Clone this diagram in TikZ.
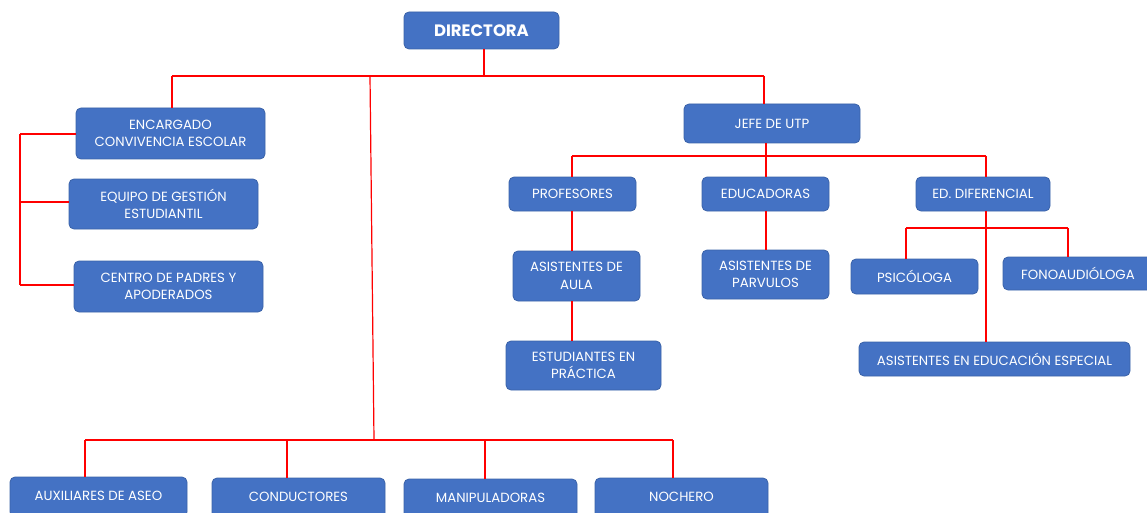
\documentclass[tikz,border=0pt]{standalone}
\usepackage{fontspec}
\setmainfont{Poppins}
\begin{document}
\begin{tikzpicture}[x=1pt,y=1pt,
  box/.style={draw=boxedge, line width=0.8pt, fill=boxfill, rounded corners=5pt, text=white,
    align=center, font=\fontsize{13.3}{17.5}\selectfont, inner sep=0pt},
  conn/.style={draw=linered, line width=1.8pt},
  thin conn/.style={draw=linered, line width=1.2pt}]
\definecolor{boxfill}{HTML}{4472C4}
\definecolor{boxedge}{HTML}{3A62A8}
\definecolor{linered}{HTML}{FF0000}
\useasboundingbox (0,0) rectangle (1147,-513);
\clip (0,0) rectangle (1147,-513);
% nodes
\node[box, minimum width=155, minimum height=37, font=\bfseries\fontsize{16.5}{19}\selectfont] (dir) at (481.5,-30.5) {DIRECTORA};
\node[box, minimum width=189, minimum height=51] (enc) at (170.5,-133.5) {ENCARGADO\\CONVIVENCIA ESCOLAR};
\node[box, minimum width=189, minimum height=50] (equ) at (163.5,-204) {EQUIPO DE GESTIÓN\\ESTUDIANTIL};
\node[box, minimum width=189, minimum height=51] (cen) at (168.5,-286.5) {CENTRO DE PADRES Y\\APODERADOS};
\node[box, minimum width=176, minimum height=39] (utp) at (772,-123.5) {JEFE DE UTP};
\node[box, minimum width=127, minimum height=34] (pro) at (572.5,-194) {PROFESORES};
\node[box, minimum width=127, minimum height=34] (edu) at (765.5,-194) {EDUCADORAS};
\node[box, minimum width=134, minimum height=34] (edd) at (983,-194) {ED. DIFERENCIAL};
\node[box, minimum width=127, minimum height=50] (aau) at (576.5,-276) {ASISTENTES DE\\AULA};
\node[box, minimum width=155, minimum height=49] (est) at (583.5,-365.5) {ESTUDIANTES EN\\PRÁCTICA};
\node[box, minimum width=127, minimum height=49] (apa) at (765.5,-274.5) {ASISTENTES DE\\PARVULOS};
\node[box, minimum width=127, minimum height=35] (psi) at (914.5,-276.5) {PSICÓLOGA};
\node[box, minimum width=150, minimum height=33] (fon) at (1078,-273.5) {FONOAUDIÓLOGA};
\node[box, minimum width=271, minimum height=34] (aee) at (994.5,-359) {ASISTENTES EN EDUCACIÓN ESPECIAL};
\node[box, minimum width=177, minimum height=40] (aux) at (98.5,-497) {\raisebox{3pt}{AUXILIARES DE ASEO}};
\node[box, minimum width=173, minimum height=40] (con) at (298.5,-498) {\raisebox{3pt}{CONDUCTORES}};
\node[box, minimum width=173, minimum height=40] (man) at (490.5,-499) {\raisebox{3pt}{MANIPULADORAS}};
\node[box, minimum width=173, minimum height=40] (noc) at (681.5,-498) {\raisebox{3pt}{NOCHERO}};
% junction coordinates
\coordinate (t1) at (484,-76);
\coordinate (tL) at (172,-76);
\coordinate (tR) at (764,-76);
\coordinate (tM) at (370,-76);
\coordinate (bM) at (374,-440);
\coordinate (bL) at (85,-440);
\coordinate (bC) at (287,-440);
\coordinate (bD) at (485,-440);
\coordinate (bR) at (673,-440);
\coordinate (lT) at (20,-134);
\coordinate (lM) at (20,-202);
\coordinate (lB) at (20,-285);
\coordinate (uM) at (766,-156);
\coordinate (uL) at (572,-156);
\coordinate (uR) at (986,-156);
\coordinate (dM) at (986,-228);
\coordinate (dL) at (906,-228);
\coordinate (dR) at (1068,-228);
% connectors
\draw[conn] (dir.south -| t1) -- (t1);
\draw[thin conn] (tL) -- (tR);
\draw[conn] (tL) -- (tL |- enc.north);
\draw[conn] (tR) -- (tR |- utp.north);
\draw[thin conn] (tM) -- (bM);
\draw[thin conn] (bL) -- (bR);
\draw[conn] (bL) -- (bL |- aux.north);
\draw[conn] (bC) -- (bC |- con.north);
\draw[conn] (bD) -- (bD |- man.north);
\draw[conn] (bR) -- (bR |- noc.north);
\draw[thin conn] (lT) -- (lB);
\draw[conn] (lT) -- (lT -| enc.west);
\draw[conn] (lM) -- (lM -| equ.west);
\draw[conn] (lB) -- (lB -| cen.west);
\draw[conn] (utp.south -| uM) -- (uM) -- (uM |- edu.north);
\draw[thin conn] (uL) -- (uR);
\draw[conn] (uL) -- (uL |- pro.north);
\draw[conn] (uR) -- (uR |- edd.north);
\draw[conn] (pro.south -| uL) -- (uL |- aau.north);
\draw[conn] (aau.south -| uL) -- (uL |- est.north);
\draw[conn] (edu.south -| uM) -- (uM |- apa.north);
\draw[conn] (edd.south -| dM) -- (dM |- aee.north);
\draw[conn] (dL) -- (dR);
\draw[conn] (dL) -- (dL |- psi.north);
\draw[conn] (dR) -- (dR |- fon.north);
\end{tikzpicture}
\end{document}
